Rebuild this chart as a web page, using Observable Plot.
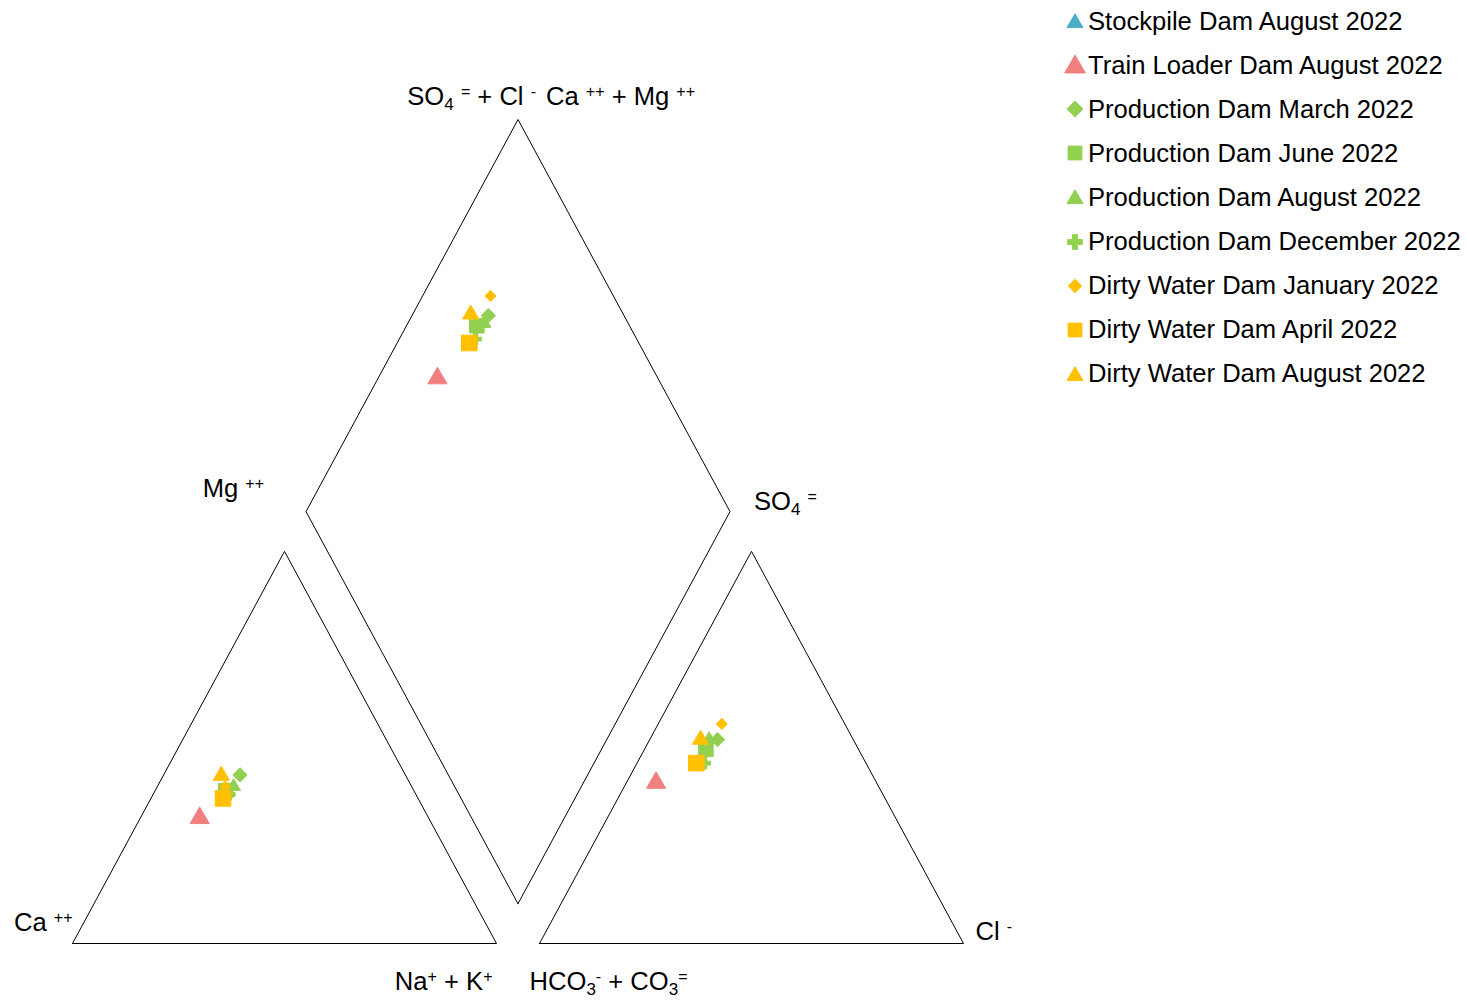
<!DOCTYPE html>
<html><head><meta charset="utf-8">
<script src="https://cdn.jsdelivr.net/npm/d3@7"></script>
<script src="https://cdn.jsdelivr.net/npm/@observablehq/plot@0.6"></script>
<style>
body{margin:0;background:#fff;font-family:"Liberation Sans",Arial,sans-serif;}
#wrap{position:relative;width:1467px;height:1008px;overflow:hidden;}
#chart{position:absolute;left:0;top:0;}
#legend{position:absolute;left:1064px;top:-1px;}
.row{display:flex;align-items:center;height:44.1px;font-size:25.6px;color:#000;white-space:nowrap;}
.row svg{flex:none;}
.row span{margin-left:2px;}
svg text{white-space:pre;}
</style></head><body><div id="wrap"><div id="chart"></div><div id="legend"></div></div>
<script>
// ---- data ----
const series = ["Stockpile Dam August 2022","Train Loader Dam August 2022","Production Dam March 2022","Production Dam June 2022","Production Dam August 2022","Production Dam December 2022","Dirty Water Dam January 2022","Dirty Water Dam April 2022","Dirty Water Dam August 2022"];
const colors = ["#4BACC6","#F08080","#92D050","#92D050","#92D050","#92D050","#FFC000","#FFC000","#FFC000"];
const symbols = ["triangle","triangle","diamond2","square","triangle","cross","diamond2","square","triangle"];
// cations (% meq)
const ca  = [null, 54, 39, 44.4, 42, 44, 44, 46, 43.5];
const mg  = [null, 32, 43, 39,   40, 38, 40, 37, 42.8];
const nak = [null, 14, 18, 16.6, 18, 18, 16, 17, 13.7];
// anions (% meq)
const hco3 = [null, 52, 32, 36,   34, 38, 29, 40, 36];
const so4  = [null, 41, 52, 49.5, 52, 46, 56, 46, 52];
const cl   = [null,  7, 16, 14.5, 14, 16, 15, 14, 12];
// axis labels (markup: _{sub}, ^{sup})
const labelCa = "Ca ^{++}";
const labelMg = "Mg ^{++}";
const labelNaK = "Na^{+} + K^{+}";
const labelHCO3 = "HCO_{3}^{-} + CO_{3}^{=}";
const labelSO4 = "SO_{4} ^{=}";
const labelCl = "Cl ^{-}";
const labelTopL = "SO_{4} ^{=} + Cl ^{-}";
const labelTopR = "Ca ^{++} + Mg ^{++}";

// ---- geometry ----
const h = Math.sqrt(3) / 2, g = 43 / 424;
const markerR = [5.2, 7.1, 6.4, 8.2, 5.1, 4.8, 5.0, 8.8, 6.0];
const legendArea = [110, 185, 160, 190, 110, 120, 115, 190, 110];

function cationXY(c, m, n) { const s = c + m + n; const M = m / s, N = n / s; return {x: N + M / 2, y: M * h}; }
function anionXY(b, s4, c) { const s = b + s4 + c; const S = s4 / s, C = c / s; return {x: 1 + g + C + S / 2, y: S * h}; }
function diamondXY(n, a) { return {x: (n + 1 + g + a) / 2, y: h * (1 + g + a - n)}; }

const pts = [];
series.forEach((name, i) => {
  if (ca[i] == null) return;
  const sc = ca[i] + mg[i] + nak[i], sa = hco3[i] + so4[i] + cl[i];
  const c = cationXY(ca[i], mg[i], nak[i]);
  const a = anionXY(hco3[i], so4[i], cl[i]);
  const d = diamondXY(nak[i] / sc, (so4[i] + cl[i]) / sa);
  for (const p of [c, a, d]) pts.push({...p, series: name, i});
});

const outline = [];
[[0,0],[1,0],[0.5,h],[0,0]].forEach(([x,y]) => outline.push({x, y, z: "cat"}));
[[1+g,0],[2+g,0],[1.5+g,h],[1+g,0]].forEach(([x,y]) => outline.push({x, y, z: "an"}));
[[1,0],[1,1],[0,1],[0,0],[1,0]].forEach(([n,a]) => outline.push({...diamondXY(n,a), z: "dia"}));

const vCatBL = {x: 0, y: 0}, vCatBR = {x: 1, y: 0};
const vAnBL = {x: 1 + g, y: 0}, vAnBR = {x: 2 + g, y: 0};
const vDiaTop = diamondXY(0, 1), vDiaL = diamondXY(0, 0), vDiaR = diamondXY(1, 1);

const W = 1060;
const txt = (v, label, opts) => Plot.text([v], {x: "x", y: "y", text: () => label, fontSize: 25.6, fill: "#000", ...opts});

const marks = [
  Plot.line(outline, {x: "x", y: "y", z: "z", stroke: "#000", strokeWidth: 1})
];
series.forEach((name, i) => {
  marks.push(Plot.dot(pts.filter(p => p.i === i), {x: "x", y: "y", symbol: () => symbols[i], r: markerR[i], fill: colors[i], stroke: colors[i], strokeWidth: 1, strokeLinejoin: "round"}));
});
marks.push(
  txt(vCatBL, labelCa, {textAnchor: "end", dx: 0, dy: -21}),
  txt(vDiaL, labelMg, {textAnchor: "end", dx: -42, dy: -23}),
  txt(vCatBR, labelNaK, {textAnchor: "end", dx: -4, dy: 38}),
  txt(vAnBL, labelHCO3, {textAnchor: "start", dx: -10, dy: 38}),
  txt(vDiaR, labelSO4, {textAnchor: "start", dx: 24, dy: -10}),
  txt(vAnBR, labelCl, {textAnchor: "start", dx: 12, dy: -12}),
  txt(vDiaTop, labelTopL, {textAnchor: "end", dx: 18, dy: -23}),
  txt(vDiaTop, labelTopR, {textAnchor: "start", dx: 28, dy: -23})
);

const chart = Plot.plot({
  width: W, height: 1008,
  marginLeft: 72, marginRight: W - 963, marginTop: 119, marginBottom: 65,
  x: {domain: [0, 2 + g], axis: null},
  y: {domain: [0, (2 + g) * h], axis: null},
  symbol: {type: "identity"},
  style: {fontFamily: "'Liberation Sans', Arial, sans-serif", overflow: "visible", background: "transparent"},
  marks
});
document.getElementById("chart").appendChild(chart);

// rich text (sub/superscripts)
function richText(el, str) {
  const parts = []; const re = /([_^])\{([^}]*)\}/g; let last = 0, m;
  while ((m = re.exec(str))) {
    if (m.index > last) parts.push({t: str.slice(last, m.index), k: "n"});
    parts.push({t: m[2], k: m[1] === "^" ? "sup" : "sub"});
    last = re.lastIndex;
  }
  if (last < str.length) parts.push({t: str.slice(last), k: "n"});
  el.textContent = "";
  let off = 0;
  for (const p of parts) {
    const target = p.k === "sup" ? -8 : p.k === "sub" ? 5 : 0;
    const ts = document.createElementNS("http://www.w3.org/2000/svg", "tspan");
    ts.textContent = p.t;
    if (target !== off) ts.setAttribute("dy", target - off);
    if (p.k === "sup") ts.setAttribute("font-size", 16);
    if (p.k === "sub") ts.setAttribute("font-size", 17);
    off = target;
    el.appendChild(ts);
  }
}
chart.querySelectorAll("text").forEach(t => {
  const s = t.textContent;
  if (/[_^]\{/.test(s)) richText(t, s);
});

// legend
const symMap = {triangle: d3.symbolTriangle, diamond2: d3.symbolDiamond2, square: d3.symbolSquare, cross: d3.symbolCross};
const legend = d3.select("#legend");
series.forEach((name, i) => {
  const row = legend.append("div").attr("class", "row");
  const s = row.append("svg").attr("width", 22).attr("height", 22);
  const yOff = symbols[i] === "triangle" ? 13 : 11;
  s.append("path").attr("transform", `translate(11,${yOff})`)
    .attr("d", d3.symbol(symMap[symbols[i]], legendArea[i])())
    .attr("fill", colors[i]).attr("stroke", colors[i]).attr("stroke-width", 1).attr("stroke-linejoin", "round");
  row.append("span").text(name);
});
</script></body></html>
